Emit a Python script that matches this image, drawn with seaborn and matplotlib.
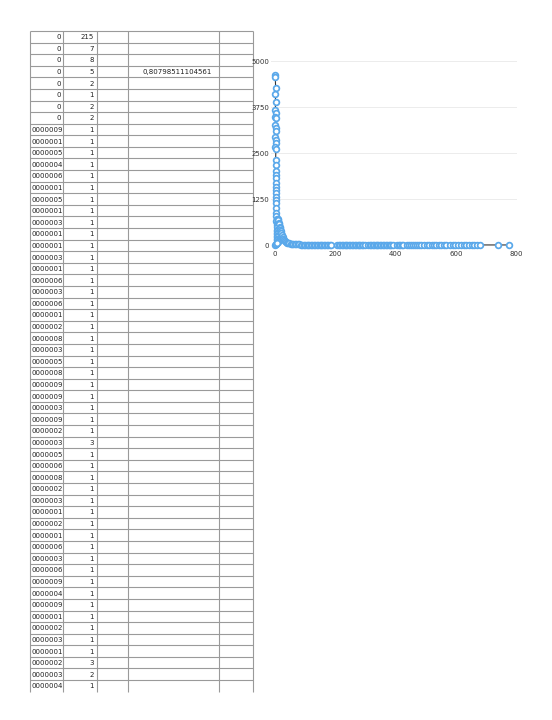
import matplotlib
matplotlib.use("Agg")
import matplotlib.pyplot as plt
import seaborn as sns
import pandas as pd

# ---------------- data ----------------
# spreadsheet table (left)
col_a = ["0", "0", "0", "0", "0", "0", "0", "0",
         "0000009", "0000001", "0000005", "0000004", "0000006", "0000001", "0000005",
         "0000001", "0000003", "0000001", "0000001", "0000003", "0000001", "0000006",
         "0000003", "0000006", "0000001", "0000002", "0000008", "0000003", "0000005",
         "0000008", "0000009", "0000009", "0000003", "0000009", "0000002", "0000003",
         "0000005", "0000006", "0000008", "0000002", "0000003", "0000001", "0000002",
         "0000001", "0000006", "0000003", "0000006", "0000009", "0000004", "0000009",
         "0000001", "0000002", "0000003", "0000001", "0000002", "0000003", "0000004"]
col_b = [215, 7, 8, 5, 2, 1, 2, 2,
         1, 1, 1, 1, 1, 1, 1, 1, 1, 1, 1, 1, 1, 1, 1, 1, 1, 1, 1, 1, 1, 1, 1, 1, 1, 1, 1,
         3, 1, 1, 1, 1, 1, 1, 1, 1, 1, 1, 1, 1, 1, 1, 1, 1, 1, 1, 3, 2, 1]
note_text = "0,80798511104561"
note_row = 3

# scatter series (right)
spike_x = [1, 1, 2, 1, 2, 1, 2, 1, 2, 1, 2, 2, 1, 2, 2, 1, 3, 2, 2, 3, 2, 3, 3, 2, 3,
           3, 4, 3, 4, 3, 4, 4, 5, 4, 5, 5, 6, 5, 6, 6, 7, 7, 8, 7, 8, 9, 9, 0, 2, 4, 6]
spike_y = [4620, 4575, 4275, 4095, 3895, 3670, 3595, 3487, 3443, 3261, 3188, 3098, 2926,
           2853, 2763, 2655, 2617, 2310, 2174, 2019, 1902, 1812, 1693, 1585, 1495, 1405,
           1313, 1223, 1133, 997, 861, 780, 720, 650, 600, 540, 480, 420, 380, 330, 290,
           250, 210, 170, 140, 110, 80, 0, 30, 15, 50]
bump_x = [10, 11, 13, 14, 16, 17, 18, 20, 21, 23, 25, 27, 30, 33,
          36, 40, 44, 48, 52, 56, 60, 65, 70, 75, 80, 85, 90, 95]
bump_y = [710, 690, 600, 560, 500, 460, 410, 370, 320, 270, 220, 170, 130, 100,
          80, 65, 55, 45, 38, 32, 27, 23, 20, 17, 15, 13, 11, 10]
tail_x = [100, 105, 110, 114, 119, 124, 129, 133, 138, 143, 148, 152, 157, 162, 167, 171,
          176, 181, 186,
          207, 212, 217, 221, 226, 231, 236, 240, 245, 250, 255, 259, 264, 269, 274, 278,
          283, 288, 293, 298,
          310, 315, 320, 324, 329, 334, 339, 343, 348, 353, 358, 362, 367, 372, 377, 381,
          386, 391,
          404, 410, 416, 422, 426,
          437, 444, 451, 458, 465, 472, 479, 486, 493,
          504, 512, 520, 528, 536, 544, 552, 560, 568,
          581, 590, 599, 608, 617, 626, 635, 644, 653, 662, 671, 681,
          740, 777]
tail_y = [9, 8, 8, 7, 7, 6, 6, 6, 5, 5, 5, 4, 4, 4, 4, 3, 3, 3, 3,
          3, 3, 3, 2, 2, 2, 2, 2, 2, 2, 2, 2, 2, 2, 1, 1, 1, 1, 1, 1,
          1, 1, 1, 1, 1, 1, 1, 1, 1, 1, 1, 1, 1, 1, 1, 1, 1, 1,
          1, 1, 1, 1, 1,
          1, 1, 1, 1, 1, 1, 1, 1, 1,
          1, 1, 1, 1, 1, 1, 1, 1, 1,
          1, 1, 1, 1, 1, 1, 1, 1, 1, 1, 1, 1,
          1, 1]
x_ticks = [0, 200, 400, 600, 800]
y_ticks = [0, 1250, 2500, 3750, 5000]

df = pd.DataFrame({"x": spike_x + bump_x + tail_x, "y": spike_y + bump_y + tail_y})

# ---------------- figure ----------------
W, H = 552, 720
fig = plt.figure(figsize=(W / 100, H / 100), dpi=100)
fig.patch.set_facecolor("white")

# table drawn in pixel space
tab = fig.add_axes([0, 0, 1, 1])
tab.set_xlim(0, W)
tab.set_ylim(H, 0)
tab.axis("off")
col_edges = [30, 63.3, 96.7, 128.3, 219.3, 252.7]
top, rh, bottom = 31, 11.59, 692
n = len(col_a)
grid_c = "#9a9a9a"
for i in range(n):
    yl = top + i * rh
    tab.hlines(yl, col_edges[0], col_edges[-1], color=grid_c, lw=0.8)
tab.vlines(col_edges, top, bottom, color=grid_c, lw=0.8)
tfont = dict(fontsize=5.0, color="#222222", family="DejaVu Sans", va="center")
for i, (a, b) in enumerate(zip(col_a, col_b)):
    yc = top + i * rh + rh / 2 + 0.5
    if a == "0":
        tab.text(col_edges[1] - 2.5, yc, a, ha="right", **tfont)
    else:
        tab.text(col_edges[0] + 1, yc, a, ha="left", **tfont)
    tab.text(col_edges[2] - 3, yc, str(b), ha="right", **tfont)
tab.text(212, top + note_row * rh + rh / 2 + 0.5, note_text, ha="right", **tfont)

# chart
ax = fig.add_axes([275 / W, 1 - 245 / H, 241 / W, 184 / H])
ax.set_facecolor("none")
ax.set_xlim(0, 800)
ax.set_ylim(0, 5000)
for yt in y_ticks[1:]:
    ax.axhline(yt, color="#ececec", lw=0.7, zorder=0, xmin=-0.015)
sns.lineplot(data=df, x="x", y="y", ax=ax, estimator=None, sort=False,
             color="#333333", lw=0.8, zorder=2)
sns.scatterplot(data=df, x="x", y="y", ax=ax, s=17, facecolor="white",
                edgecolor="#5aa8ea", linewidth=1.25, zorder=3)
for c in ax.collections:
    c.set_clip_on(False)
for l in ax.lines:
    l.set_clip_on(False)
ax.set_xticks(x_ticks)
ax.set_yticks(y_ticks)
ax.set_xticklabels([str(v) for v in x_ticks])
ax.set_yticklabels([str(v) for v in y_ticks])
ax.tick_params(axis="both", length=0, labelsize=5, colors="#333333")
ax.tick_params(axis="y", pad=4.3)
ax.tick_params(axis="x", pad=4.2)
ax.set_xlabel("")
ax.set_ylabel("")
for s in ax.spines.values():
    s.set_visible(False)
ax.grid(False)

fig.savefig("out.png", dpi=100, facecolor="white")
